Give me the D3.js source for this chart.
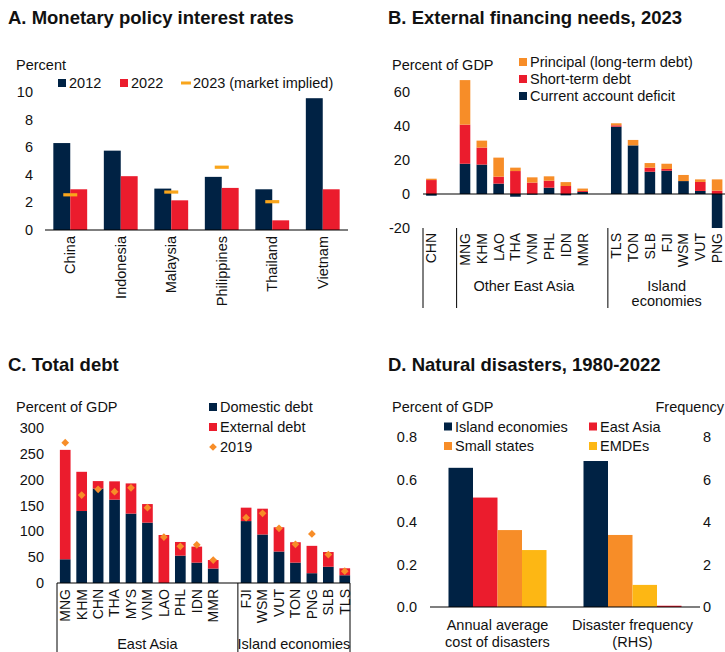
<!DOCTYPE html>
<html>
<head>
<meta charset="utf-8">
<script src="https://cdn.jsdelivr.net/npm/d3@7"></script>
<style>
  html, body { margin: 0; padding: 0; background: #fff; }
  svg { display: block; font-family: "Liberation Sans", Arial, sans-serif; }
  text { fill: #111; }
  .title { font-weight: bold; font-size: 18.5px; }
  .lbl { font-size: 14.5px; }
  .code { font-size: 14px; }
</style>
</head>
<body>
<svg id="chart" width="725" height="652"></svg>
<script>
// ---------- Panel A: monetary policy interest rates ----------
const rateCountries = ["China", "Indonesia", "Malaysia", "Philippines", "Thailand", "Vietnam"];
const rate2012 = [6.3, 5.75, 3.0, 3.85, 2.95, 9.55];
const rate2022 = [2.95, 3.9, 2.15, 3.05, 0.7, 2.95];
const rate2023 = [2.55, null, 2.75, 4.55, 2.05, null];
const rateTicks = [0, 2, 4, 6, 8, 10];

// ---------- Panel B: external financing needs, 2023 ----------
const finCodes = ["CHN", "MNG", "KHM", "LAO", "THA", "VNM", "PHL", "IDN", "MMR",
                  "TLS", "TON", "SLB", "FJI", "WSM", "VUT", "PNG"];
const finGroupOf = ["", "Other East Asia", "Other East Asia", "Other East Asia", "Other East Asia",
                    "Other East Asia", "Other East Asia", "Other East Asia", "Other East Asia",
                    "Island economies", "Island economies", "Island economies", "Island economies",
                    "Island economies", "Island economies", "Island economies"];
const finCurrentAccount = [-1.0, 17.8, 17.3, 6.1, -1.6, -0.4, 3.7, -0.8, 1.2,
                           39.6, 28.6, 13.1, 13.7, 7.6, 1.8, -20.0];
const finShortTerm = [8.2, 23.0, 10.0, 4.1, 13.5, 6.7, 4.1, 4.7, 0.6,
                      0.8, 0.0, 2.4, 1.0, 0.0, 5.3, 2.0];
const finPrincipal = [0.8, 26.2, 4.1, 11.2, 2.0, 3.1, 2.6, 2.3, 1.4,
                      1.2, 3.2, 2.7, 3.1, 3.6, 1.5, 6.6];
const finTicks = [-20, 0, 20, 40, 60];

// ---------- Panel C: total debt ----------
const debtCodes = ["MNG", "KHM", "CHN", "THA", "MYS", "VNM", "LAO", "PHL", "IDN", "MMR",
                   "FJI", "WSM", "VUT", "TON", "PNG", "SLB", "TLS"];
const debtGroupOf = ["East Asia", "East Asia", "East Asia", "East Asia", "East Asia",
                     "East Asia", "East Asia", "East Asia", "East Asia", "East Asia",
                     "Island economies", "Island economies", "Island economies", "Island economies",
                     "Island economies", "Island economies", "Island economies"];
const debtDomestic = [46, 139.5, 183, 161.5, 134.5, 117, 0, 53, 39.5, 28,
                      120, 94, 61, 39.5, 19, 31.5, 15];
const debtExternal = [212, 76, 14.5, 35.5, 58.5, 36, 93, 26.5, 31, 16.5,
                      26, 50, 47, 39.5, 53, 28.5, 13.5];
const debt2019 = [272, 170.5, 181.5, 177, 184.5, 146, 89, 71, 74, 44.5,
                  126.5, 135, 106, 75, 95, 55, 23];
const debtTicks = [0, 50, 100, 150, 200, 250, 300];

// ---------- Panel D: natural disasters, 1980-2022 ----------
const disasterMeasures = ["Annual average|cost of disasters", "Disaster frequency|(RHS)"];
const disasterGroups = ["Island economies", "East Asia", "Small states", "EMDEs"];
const disasterCost = [0.655, 0.515, 0.362, 0.268];          // percent of GDP
const disasterFrequency = [6.87, 0.06, 3.39, 1.04];         // events per year (RHS)
const frequencyBarOrder = ["Island economies", "Small states", "EMDEs", "East Asia"];
const disasterTicksL = [0.0, 0.2, 0.4, 0.6, 0.8];
const disasterTicksR = [0, 2, 4, 6, 8];

// ---------- palette ----------
const NAVY = "#002244", RED = "#EB1C2D", ORANGE = "#F78D28", YELLOW = "#FDB714", GOLD = "#F9A51B";

const svg = d3.select("#chart");

function yTickLabels(g, scale, ticks, x, fmt, anchor) {
  g.selectAll(null).data(ticks).join("text")
    .attr("class", "lbl")
    .attr("x", x).attr("y", d => scale(d))
    .attr("dy", "0.35em")
    .attr("text-anchor", anchor || "end")
    .text(fmt || (d => d));
}
function baseline(g, x0, x1, y) {
  g.append("line").attr("x1", x0).attr("x2", x1).attr("y1", y).attr("y2", y)
    .attr("stroke", "#000").attr("stroke-width", 1.2);
}
function legendSwatch(g, x, y, color, label) {
  g.append("rect").attr("x", x).attr("y", y - 4).attr("width", 8).attr("height", 8).attr("fill", color);
  g.append("text").attr("class", "lbl").attr("x", x + 11).attr("y", y).attr("dy", "0.35em").text(label);
}

// ================= Panel A =================
{
  const g = svg.append("g");
  g.append("text").attr("class", "title").attr("x", 8).attr("y", 18).attr("dy", "0.35em")
    .text("A. Monetary policy interest rates");
  g.append("text").attr("class", "lbl").attr("x", 16).attr("y", 65).attr("dy", "0.35em").text("Percent");

  const x = d3.scaleBand().domain(rateCountries).range([45, 348]).paddingInner(0.33).paddingOuter(0.165);
  const x1 = d3.scaleBand().domain(["2012", "2022"]).range([0, x.bandwidth()]);
  const y = d3.scaleLinear().domain([0, 10]).range([230, 92]);

  yTickLabels(g, y, rateTicks, 33);

  const rows = rateCountries.map((c, i) => ({ c, v2012: rate2012[i], v2022: rate2022[i], v2023: rate2023[i] }));
  g.selectAll(".b12").data(rows).join("rect")
    .attr("x", d => x(d.c) + x1("2012")).attr("width", x1.bandwidth())
    .attr("y", d => y(d.v2012)).attr("height", d => y(0) - y(d.v2012)).attr("fill", NAVY);
  g.selectAll(".b22").data(rows).join("rect")
    .attr("x", d => x(d.c) + x1("2022")).attr("width", x1.bandwidth())
    .attr("y", d => y(d.v2022)).attr("height", d => y(0) - y(d.v2022)).attr("fill", RED);
  g.selectAll(".m23").data(rows.filter(d => d.v2023 != null)).join("rect")
    .attr("x", d => x(d.c) + x.bandwidth() / 2 - 7).attr("width", 14)
    .attr("y", d => y(d.v2023) - 1.6).attr("height", 3.2).attr("fill", GOLD);

  baseline(g, 45, 348, y(0));

  g.selectAll(".xl").data(rateCountries).join("text")
    .attr("class", "lbl")
    .attr("transform", d => `translate(${x(d) + x.bandwidth() / 2},236) rotate(-90)`)
    .attr("dy", "0.35em").attr("text-anchor", "end").text(d => d);

  // legend
  legendSwatch(g, 58, 83, NAVY, "2012");
  legendSwatch(g, 120, 83, RED, "2022");
  g.append("rect").attr("x", 181).attr("y", 81.5).attr("width", 10).attr("height", 3).attr("fill", GOLD);
  g.append("text").attr("class", "lbl").attr("x", 193).attr("y", 83).attr("dy", "0.35em").text("2023 (market implied)");
}

// ================= Panel B =================
{
  const g = svg.append("g");
  g.append("text").attr("class", "title").attr("x", 388).attr("y", 18).attr("dy", "0.35em")
    .text("B. External financing needs, 2023");
  g.append("text").attr("class", "lbl").attr("x", 392).attr("y", 65).attr("dy", "0.35em").text("Percent of GDP");

  // slot list with blank slots between country groups
  const slots = [];
  finCodes.forEach((c, i) => {
    if (i > 0 && finGroupOf[i] !== finGroupOf[i - 1]) slots.push("_gap" + i);
    slots.push(c);
  });
  const x = d3.scaleBand().domain(slots).range([423, 725.5]).paddingInner(0.37).paddingOuter(0.185);
  const y = d3.scaleLinear().domain([-20, 70]).range([228, 75]);

  yTickLabels(g, y, finTicks, 410);

  const rows = finCodes.map((c, i) => ({ c, ca: finCurrentAccount[i], st: finShortTerm[i], pr: finPrincipal[i] }));
  const keys = ["ca", "st", "pr"];
  const colors = { ca: NAVY, st: RED, pr: ORANGE };
  const series = d3.stack().keys(keys).offset(d3.stackOffsetDiverging)(rows);
  g.selectAll(".s").data(series).join("g").attr("fill", s => colors[s.key])
    .selectAll("rect").data(s => s).join("rect")
    .attr("x", d => x(d.data.c)).attr("width", x.bandwidth())
    .attr("y", d => y(Math.max(d[0], d[1])))
    .attr("height", d => Math.abs(y(d[0]) - y(d[1])));

  baseline(g, 423, 725, y(0));

  g.selectAll(".xl").data(finCodes).join("text")
    .attr("class", "code")
    .attr("transform", d => `translate(${x(d) + x.bandwidth() / 2},233) rotate(-90)`)
    .attr("dy", "0.35em").attr("text-anchor", "end").text(d => d);

  // group separators and group names
  const step = x.step();
  const groupStarts = finCodes.filter((c, i) => i === 0 || finGroupOf[i] !== finGroupOf[i - 1]);
  groupStarts.forEach(c => {
    const xs = c === finCodes[0] ? x.range()[0] : x(c) - x.paddingInner() * step / 2;
    g.append("line").attr("x1", xs).attr("x2", xs).attr("y1", 228).attr("y2", 308)
      .attr("stroke", "#000").attr("stroke-width", 1);
  });
  const groupNames = [...new Set(finGroupOf)].filter(n => n);
  groupNames.forEach(n => {
    const members = finCodes.filter((c, i) => finGroupOf[i] === n);
    const cx = (x(members[0]) + x(members[members.length - 1]) + x.bandwidth()) / 2;
    const lines = n === "Island economies" ? ["Island", "economies"] : [n];
    lines.forEach((t, k) => g.append("text").attr("class", "lbl").attr("x", cx).attr("y", 286 + k * 15)
      .attr("dy", "0.35em").attr("text-anchor", "middle").text(t));
  });

  legendSwatch(g, 519, 62, ORANGE, "Principal (long-term debt)");
  legendSwatch(g, 519, 79, RED, "Short-term debt");
  legendSwatch(g, 519, 96, NAVY, "Current account deficit");
}

// ================= Panel C =================
{
  const g = svg.append("g");
  g.append("text").attr("class", "title").attr("x", 8).attr("y", 365).attr("dy", "0.35em").text("C. Total debt");
  g.append("text").attr("class", "lbl").attr("x", 16).attr("y", 407).attr("dy", "0.35em").text("Percent of GDP");

  const slots = [];
  debtCodes.forEach((c, i) => {
    if (i > 0 && debtGroupOf[i] !== debtGroupOf[i - 1]) slots.push("_gap" + i);
    slots.push(c);
  });
  const x = d3.scaleBand().domain(slots).range([57, 353]).paddingInner(0.35).paddingOuter(0.175);
  const y = d3.scaleLinear().domain([0, 300]).range([583, 428.2]);

  yTickLabels(g, y, debtTicks, 44);

  const rows = debtCodes.map((c, i) => ({ c, dom: debtDomestic[i], ext: debtExternal[i], y19: debt2019[i] }));
  const colors = { dom: NAVY, ext: RED };
  const series = d3.stack().keys(["dom", "ext"])(rows);
  g.selectAll(".s").data(series).join("g").attr("fill", s => colors[s.key])
    .selectAll("rect").data(s => s).join("rect")
    .attr("x", d => x(d.data.c)).attr("width", x.bandwidth())
    .attr("y", d => y(d[1])).attr("height", d => y(d[0]) - y(d[1]));

  const diamond = d3.symbol().type(d3.symbolSquare).size(30);
  g.selectAll(".d19").data(rows).join("path")
    .attr("d", diamond)
    .attr("transform", d => `translate(${x(d.c) + x.bandwidth() / 2},${y(d.y19)}) rotate(45)`)
    .attr("fill", ORANGE);

  const x0 = 57, x1 = 350;
  baseline(g, x0, x1, y(0));

  g.selectAll(".xl").data(debtCodes).join("text")
    .attr("class", "code")
    .attr("transform", d => `translate(${x(d) + x.bandwidth() / 2},589) rotate(-90)`)
    .attr("dy", "0.35em").attr("text-anchor", "end").text(d => d);

  const secondStart = debtCodes.find((c, i) => i > 0 && debtGroupOf[i] !== debtGroupOf[i - 1]);
  const xsMid = x(secondStart) - x.paddingInner() * x.step() / 2;
  [x0, xsMid, x1].forEach(xs => g.append("line").attr("x1", xs).attr("x2", xs)
    .attr("y1", y(0)).attr("y2", 652).attr("stroke", "#000").attr("stroke-width", 1));
  g.append("text").attr("class", "lbl").attr("x", (x0 + xsMid) / 2).attr("y", 644)
    .attr("dy", "0.35em").attr("text-anchor", "middle").text("East Asia");
  g.append("text").attr("class", "lbl").attr("x", (xsMid + x1) / 2).attr("y", 644)
    .attr("dy", "0.35em").attr("text-anchor", "middle").text("Island economies");

  legendSwatch(g, 209, 407, NAVY, "Domestic debt");
  legendSwatch(g, 209, 427, RED, "External debt");
  g.append("path").attr("d", diamond).attr("transform", "translate(213,447) rotate(45)").attr("fill", ORANGE);
  g.append("text").attr("class", "lbl").attr("x", 220).attr("y", 447).attr("dy", "0.35em").text("2019");
}

// ================= Panel D =================
{
  const g = svg.append("g");
  g.append("text").attr("class", "title").attr("x", 388).attr("y", 365).attr("dy", "0.35em")
    .text("D. Natural disasters, 1980-2022");
  g.append("text").attr("class", "lbl").attr("x", 392).attr("y", 407).attr("dy", "0.35em").text("Percent of GDP");
  g.append("text").attr("class", "lbl").attr("x", 724).attr("y", 407).attr("dy", "0.35em")
    .attr("text-anchor", "end").text("Frequency");

  const colors = { "Island economies": NAVY, "East Asia": RED, "Small states": ORANGE, "EMDEs": YELLOW };
  const x = d3.scaleBand().domain(disasterMeasures).range([430, 700]).paddingInner(0.274).paddingOuter(0.137);
  const yL = d3.scaleLinear().domain([0, 0.8]).range([607, 437]);
  const yR = d3.scaleLinear().domain([0, 8]).range([607, 437]);

  yTickLabels(g, yL, disasterTicksL, 417, d => d.toFixed(1));
  yTickLabels(g, yR, disasterTicksR, 703, d => d, "start");

  const costRows = disasterGroups.map((k, i) => ({ k, v: disasterCost[i] }));
  const freqRows = disasterGroups.map((k, i) => ({ k, v: disasterFrequency[i] }));
  const xc = d3.scaleBand().domain(disasterGroups).range([0, x.bandwidth()]);
  const xf = d3.scaleBand().domain(frequencyBarOrder).range([0, x.bandwidth()]);

  g.selectAll(".c").data(costRows).join("rect")
    .attr("x", d => x(disasterMeasures[0]) + xc(d.k)).attr("width", xc.bandwidth())
    .attr("y", d => yL(d.v)).attr("height", d => yL(0) - yL(d.v)).attr("fill", d => colors[d.k]);
  g.selectAll(".f").data(freqRows).join("rect")
    .attr("x", d => x(disasterMeasures[1]) + xf(d.k)).attr("width", xf.bandwidth())
    .attr("y", d => yR(d.v)).attr("height", d => yR(0) - yR(d.v)).attr("fill", d => colors[d.k]);

  baseline(g, 430, 700, yL(0));

  disasterMeasures.forEach(m => {
    m.split("|").forEach((t, k) => g.append("text").attr("class", "lbl")
      .attr("x", x(m) + x.bandwidth() / 2).attr("y", 625 + k * 17).attr("dy", "0.35em")
      .attr("text-anchor", "middle").text(t));
  });

  legendSwatch(g, 444, 426.5, colors["Island economies"], "Island economies");
  legendSwatch(g, 589, 426.5, colors["East Asia"], "East Asia");
  legendSwatch(g, 444, 446, colors["Small states"], "Small states");
  legendSwatch(g, 589, 446, colors["EMDEs"], "EMDEs");
}
</script>
</body>
</html>
